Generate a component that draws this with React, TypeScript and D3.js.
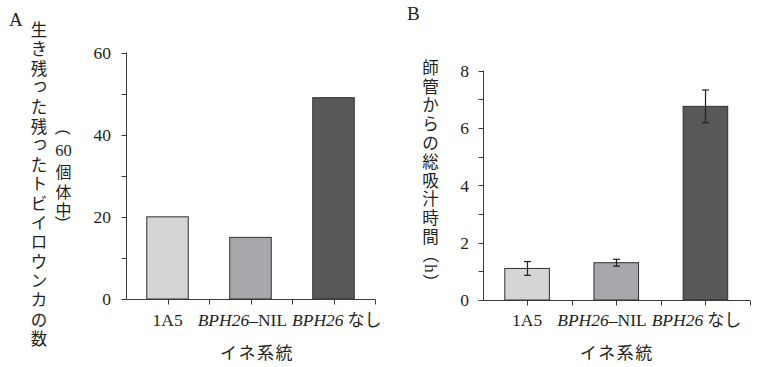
import React from 'react';
import * as d3 from 'd3';

// ---- data ----
const categories = ['1A5', 'BPH26–NIL', 'BPH26 なし'];
const survivors = [20, 15, 49]; // 生き残ったトビイロウンカの数（60個体中）
const suckingHours = [1.1, 1.3, 6.75]; // 師管からの総吸汁時間（h）
const suckingErr = [0.24, 0.12, 0.57];
const yTicksA = [0, 20, 40, 60];
const yTicksB = [0, 2, 4, 6, 8];
const barColors = ['#d4d5d7', '#a7a8ab', '#57585a'];
const titleA = '生き残った残ったトビイロウンカの数';
const subTitleA = ['（', '60', '個', '体', '中', '）'];
const titleB = '師管からの総吸汁時間（h）';
const xTitle = 'イネ系統';
const panelLetters = ['A', 'B'];

const LATIN = '"Liberation Serif", "Times New Roman", serif';
const CJK = '"Noto Sans CJK JP", "Noto Sans CJK SC", sans-serif';
const INK = '#231f20';
const AXIS = '#3a3a3a';
const SMALL_KANA = 'っゃゅょぁぃぅぇぉッャュョァィゥェォ';

type Cell = { ch: string; c: number };

// lay out a vertical (tategaki) label: full-width cells of `step`, Latin letters narrower
function layoutVertical(text: string | string[], firstCenter: number, step: number): Cell[] {
  const chars = typeof text === 'string' ? Array.from(text) : text;
  const out: Cell[] = [];
  let pos = firstCenter - step / 2;
  chars.forEach((ch) => {
    const adv = /^[A-Za-z]$/.test(ch) ? step * 0.45 : step;
    out.push({ ch, c: pos + adv / 2 });
    pos += adv;
  });
  return out;
}

function VChar({ ch, x, cy, size }: { ch: string; x: number; cy: number; size: number }) {
  const common = { textAnchor: 'middle' as const, dominantBaseline: 'central' as const, fill: INK };
  if (ch === '（' || ch === '）') {
    return (
      <text x={x} y={cy} {...common} fontFamily={CJK} fontSize={size}
        transform={`rotate(90 ${x} ${cy})`}>{ch}</text>
    );
  }
  if (/^[A-Za-z]$/.test(ch)) {
    return (
      <text x={x} y={cy} {...common} fontFamily={LATIN} fontSize={size + 1}
        transform={`rotate(90 ${x} ${cy})`}>{ch}</text>
    );
  }
  if (/^\d+$/.test(ch)) {
    return <text x={x} y={cy} {...common} fontFamily={LATIN} fontSize={size + 0.5}>{ch}</text>;
  }
  const small = SMALL_KANA.includes(ch);
  return (
    <text x={x + (small ? 1 : 0)} y={cy - (small ? 2.5 : 0)} {...common} fontFamily={CJK}
      fontSize={size}>{ch}</text>
  );
}

type PanelProps = {
  x0: number; x1: number; yBase: number; yTop: number;
  max: number; minorStep: number; tickLabels: number[];
  values: number[]; errors?: number[]; labelGap: number; titleDx: number;
};

function CategoryLabels({ x, y }: { x: d3.ScaleBand<string>; y: number }) {
  const bw = x.bandwidth();
  const start = (x(categories[0]) as number) + bw / 2 - 15;
  const gaps = [0, 15, 5];
  const parts: React.ReactNode[] = [];
  categories.forEach((c, i) => {
    const m = c.match(/^(BPH26)(.*)$/);
    if (m) {
      parts.push(
        <tspan key={`i${i}`} dx={gaps[i]} fontStyle="italic">{m[1]}</tspan>
      );
      const rest = m[2];
      if (rest.startsWith(' ')) {
        parts.push(
          <tspan key={`r${i}`} dx={4} fontFamily={CJK} fontSize={17}>{rest.trim()}</tspan>
        );
      } else {
        parts.push(<tspan key={`r${i}`}>{rest}</tspan>);
      }
    } else {
      parts.push(<tspan key={`p${i}`} x={start}>{c}</tspan>);
    }
  });
  return (
    <text y={y} fontFamily={LATIN} fontSize={17.5} fill={INK}>
      {parts}
    </text>
  );
}

function Panel(p: PanelProps) {
  const x = d3.scaleBand<string>().domain(categories).range([p.x0, p.x1]).padding(0);
  const y = d3.scaleLinear().domain([0, p.max]).range([p.yBase, p.yTop]);
  const bw = x.bandwidth();
  const barW = bw * 0.5;
  const minor = d3.range(0, p.max + p.minorStep / 2, p.minorStep);
  const ax = Math.round(p.x0) + 0.5;
  const ay = Math.round(p.yBase) + 0.5;
  const xTicks: number[] = [];
  categories.forEach((c) => {
    const s = x(c) as number;
    xTicks.push(s + bw / 2, s + bw);
  });
  return (
    <g>
      {categories.map((c, i) => {
        const cx = (x(c) as number) + bw / 2;
        const top = y(p.values[i]);
        return (
          <rect key={c} x={cx - barW / 2} y={top} width={barW} height={p.yBase - top}
            fill={barColors[i]} stroke="#2f2f2f" strokeWidth={1} />
        );
      })}
      {p.errors && categories.map((c, i) => {
        const cx = Math.round((x(c) as number) + bw / 2) + 0.5;
        const hi = y(p.values[i] + p.errors![i]);
        const lo = y(p.values[i] - p.errors![i]);
        return (
          <g key={`e${c}`} stroke={INK} strokeWidth={1.2}>
            <line x1={cx} x2={cx} y1={hi} y2={lo} />
            <line x1={cx - 3.5} x2={cx + 3.5} y1={hi} y2={hi} />
            <line x1={cx - 3.5} x2={cx + 3.5} y1={lo} y2={lo} />
          </g>
        );
      })}
      <line x1={ax} x2={ax} y1={y(p.max)} y2={ay} stroke={AXIS} strokeWidth={1} />
      {minor.map((v) => (
        <line key={`yt${v}`} x1={ax - 5} x2={ax} y1={Math.round(y(v)) + 0.5} y2={Math.round(y(v)) + 0.5}
          stroke={AXIS} strokeWidth={1} />
      ))}
      {p.tickLabels.map((v) => (
        <text key={`yl${v}`} x={p.x0 - p.labelGap} y={y(v)} dy="0.36em" textAnchor="end"
          fontFamily={LATIN} fontSize={17.5} fill={INK}>{v}</text>
      ))}
      <line x1={ax} x2={p.x1} y1={ay} y2={ay} stroke={AXIS} strokeWidth={1} />
      {xTicks.map((t, i) => (
        <line key={`xt${i}`} x1={Math.round(t) + 0.5} x2={Math.round(t) + 0.5} y1={ay} y2={ay + 5}
          stroke={AXIS} strokeWidth={1} />
      ))}
      <CategoryLabels x={x} y={326} />
      <text x={(p.x0 + p.x1) / 2 + p.titleDx} y={353} dy="0.35em" textAnchor="middle"
        fontFamily={CJK} fontSize={17} letterSpacing={1.5} fill={INK}>{xTitle}</text>
    </g>
  );
}

export default function App() {
  const cellsA = layoutVertical(titleA, 29, 19.3);
  const subCenters = [127.5, 150, 171, 191, 208.5, 223.5];
  const cellsB = layoutVertical(titleB, 66.7, 18.8);
  return (
    <svg width={764} height={367} viewBox="0 0 764 367"
      style={{ position: 'absolute', left: 0, top: 0, background: '#fff' }}>
      <rect width={764} height={367} fill="#fff" />
      <text x={9} y={26} fontFamily={LATIN} fontSize={19} fill={INK}>{panelLetters[0]}</text>
      <text x={407} y={20} fontFamily={LATIN} fontSize={19} fill={INK}>{panelLetters[1]}</text>

      <g>
        {cellsA.map((d, i) => <VChar key={`a${i}`} ch={d.ch} x={39} cy={d.c} size={16.5} />)}
      </g>
      <g>
        {subTitleA.map((ch, i) => <VChar key={`s${i}`} ch={ch} x={63.5} cy={subCenters[i]} size={16} />)}
      </g>

      <Panel x0={126} x1={375} yBase={299} yTop={52.5} max={60} minorStep={10}
        tickLabels={yTicksA} values={survivors} labelGap={15} titleDx={6.5} />

      <g>
        {cellsB.map((d, i) => <VChar key={`b${i}`} ch={d.ch} x={430.5} cy={d.c} size={16.5} />)}
      </g>

      <Panel x0={482.5} x1={750} yBase={300} yTop={70.5} max={8} minorStep={1}
        tickLabels={yTicksB} values={suckingHours} errors={suckingErr} labelGap={13.5} titleDx={0.5} />
    </svg>
  );
}
